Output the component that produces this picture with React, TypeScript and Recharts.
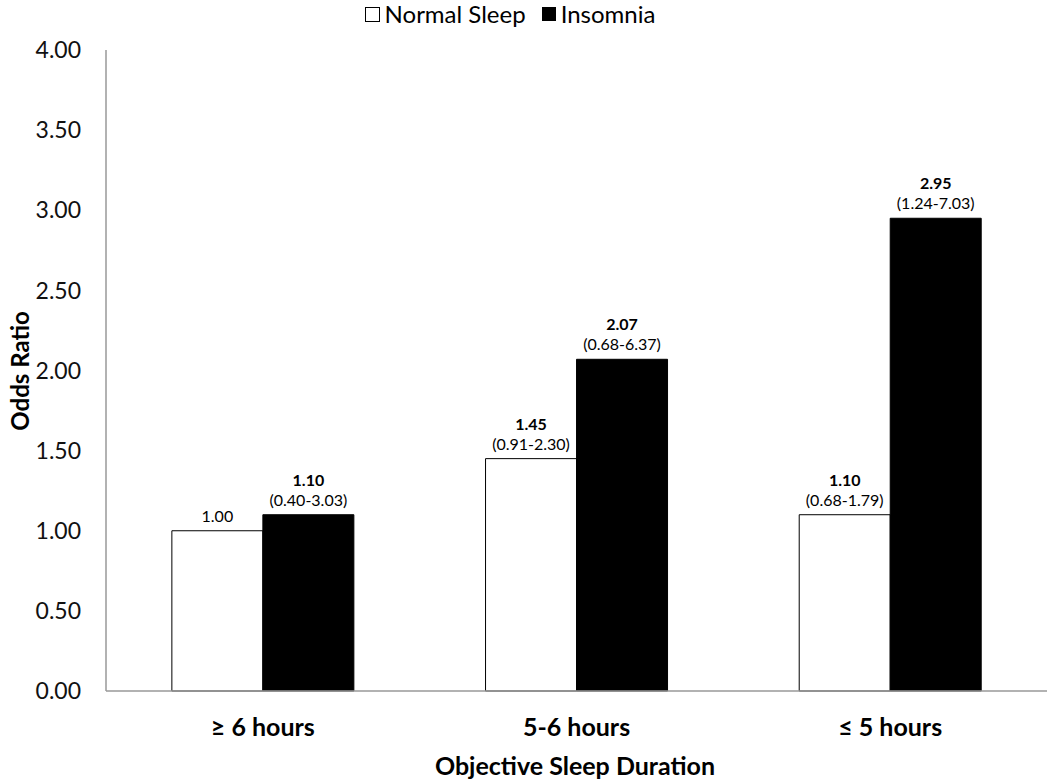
import React from 'react';
import { BarChart, Bar, XAxis, YAxis, LabelList, Label } from 'recharts';

const categories = ['\u2265 6 hours', '5-6 hours', '\u2264 5 hours'];
const normalSleep = [1.0, 1.45, 1.1];
const insomnia = [1.1, 2.07, 2.95];
const normalCI = ['', '(0.91-2.30)', '(0.68-1.79)'];
const insomniaCI = ['(0.40-3.03)', '(0.68-6.37)', '(1.24-7.03)'];
const normalBold = [false, true, true];
const insomniaBold = [true, true, true];
const yTicks = [0, 0.5, 1, 1.5, 2, 2.5, 3, 3.5, 4];

const data = categories.map((c, i) => ({
  name: c,
  normal: normalSleep[i],
  insomnia: insomnia[i],
}));

const FONT = 'Lato, "Open Sans", sans-serif';

const makeLabel = (values: number[], cis: string[], bolds: boolean[]) => (props: any) => {
  const { x, y, width, index } = props;
  const cx = Number(x) + Number(width) / 2;
  const top = Number(y);
  const ci = cis[index];
  const valText = values[index].toFixed(2);
  return (
    <g>
      {ci ? (
        <>
          <text x={cx} y={top - 29} textAnchor="middle" fontFamily={FONT} fontSize={16} fontWeight={bolds[index] ? 'bold' : 'normal'} fill="#000">
            {valText}
          </text>
          <text x={cx} y={top - 9} textAnchor="middle" fontFamily={FONT} fontSize={16} fill="#000">
            {ci}
          </text>
        </>
      ) : (
        <text x={cx} y={top - 9} textAnchor="middle" fontFamily={FONT} fontSize={16} fontWeight={bolds[index] ? 'bold' : 'normal'} fill="#000">
          {valText}
        </text>
      )}
    </g>
  );
};

export default function App() {
  return (
    <div style={{ position: 'absolute', left: 0, top: 0, width: 1050, height: 779, background: '#fff' }}>
      <div
        style={{
          position: 'absolute',
          top: 0,
          left: 0,
          width: 1020,
          display: 'flex',
          justifyContent: 'center',
          alignItems: 'center',
          fontFamily: FONT,
          fontSize: 24,
          lineHeight: '28px',
          height: 28,
          color: '#000',
        }}
      >
        <span style={{ display: 'inline-flex', alignItems: 'center', marginRight: 16 }}>
          <span style={{ width: 13, height: 13, border: '1px solid #000', background: '#fff', display: 'inline-block', marginRight: 5 }} />
          <span>Normal Sleep</span>
        </span>
        <span style={{ display: 'inline-flex', alignItems: 'center' }}>
          <span style={{ width: 14, height: 14, background: '#000', display: 'inline-block', marginRight: 5 }} />
          <span>Insomnia</span>
        </span>
      </div>
      <BarChart
        width={1050}
        height={779}
        data={data}
        margin={{ top: 50, right: 3, left: 0, bottom: 0 }}
        barCategoryGap="21%"
        barGap={0}
      >
        <YAxis
          width={106}
          domain={[0, 4]}
          ticks={yTicks}
          interval={0}
          tickFormatter={(v: number) => v.toFixed(2)}
          tickLine={false}
          tickMargin={19}
          axisLine={{ stroke: '#999', strokeWidth: 1.5 }}
          tick={{ fontFamily: FONT, fontSize: 23, fill: '#111' }}
        >
          <Label
            content={() => (
              <text x={19} y={371} transform="rotate(-90 19 371)" textAnchor="middle" dominantBaseline="central" fontFamily={FONT} fontSize={24} fontWeight="bold" fill="#000">
                Odds Ratio
              </text>
            )}
          />
        </YAxis>
        <XAxis
          dataKey="name"
          height={88}
          tickLine={false}
          tickMargin={21}
          axisLine={{ stroke: '#999', strokeWidth: 1.5 }}
          tick={{ fontFamily: FONT, fontSize: 25, fontWeight: 'bold', fill: '#000' }}
        >
          <Label
            content={() => (
              <text x={575} y={765} textAnchor="middle" dominantBaseline="central" fontFamily={FONT} fontSize={25} fontWeight="bold" fill="#000">
                Objective Sleep Duration
              </text>
            )}
          />
        </XAxis>
        <Bar dataKey="normal" fill="#fff" stroke="#000" strokeWidth={1} isAnimationActive={false}>
          <LabelList dataKey="normal" content={makeLabel(normalSleep, normalCI, normalBold)} />
        </Bar>
        <Bar dataKey="insomnia" fill="#000" stroke="#000" strokeWidth={1} isAnimationActive={false}>
          <LabelList dataKey="insomnia" content={makeLabel(insomnia, insomniaCI, insomniaBold)} />
        </Bar>
      </BarChart>
    </div>
  );
}
